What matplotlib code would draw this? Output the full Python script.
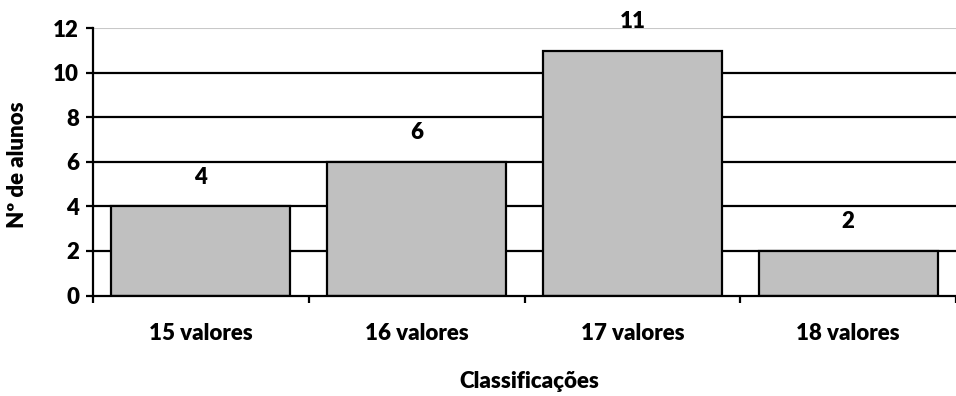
import matplotlib
matplotlib.use("Agg")
import matplotlib.pyplot as plt
import numpy as np

categories = ["15 valores", "16 valores", "17 valores", "18 valores"]
counts = [4, 6, 11, 2]
yticks = [0, 2, 4, 6, 8, 10, 12]

plt.rcParams['font.family'] = ['Lato', 'DejaVu Sans']
FONT = dict(fontsize=16, fontweight='heavy')

W, H = 956, 396
fig = plt.figure(figsize=(W / 100, H / 100), dpi=100)
left_px, right_px = 93, 956
bottom_px, top_px = 295.5, 28.3
ax = fig.add_axes([left_px / W, 1 - bottom_px / H,
                   (right_px - left_px) / W, (bottom_px - top_px) / H])

unit = 218.0
x = np.arange(len(categories))
ax.set_xlim(-0.5, -0.5 + (right_px - left_px) / unit)
ax.set_ylim(0, 12)

# horizontal gridlines
for v in yticks[1:-1]:
    ax.axhline(v, color='black', lw=1.6, zorder=1)
ax.axhline(12, color='#c8c8c8', lw=1.5, zorder=1)

bars = ax.bar(x, counts, width=0.83, color='#c0c0c0', edgecolor='black',
              linewidth=1.6, zorder=2)

for xi, c in zip(x, counts):
    ax.annotate(str(c), (xi, c), xytext=(0, 21), textcoords='offset points',
                ha='center', va='center', **FONT)

ax.spines['top'].set_visible(False)
ax.spines['right'].set_visible(False)
ax.spines['left'].set_linewidth(1.6)
ax.spines['bottom'].set_linewidth(1.6)

ax.set_yticks(yticks)
ax.set_yticklabels([str(v) for v in yticks], **FONT)
ax.tick_params(axis='y', length=5, width=1.6, pad=5)

# category boundaries carry the tick marks, labels sit at the centres
ax.set_xticks(np.arange(-0.5, len(categories) + 0.5, 1.0))
ax.set_xticklabels([])
ax.tick_params(axis='x', which='major', length=5, width=1.6)
ax.set_xticks(x, minor=True)
ax.set_xticklabels(categories, minor=True, **FONT)
ax.tick_params(axis='x', which='minor', length=0, pad=20)

fig.text(18 / W, 1 - 165 / H, "Nº de alunos", rotation=90,
         ha='center', va='center', **FONT)
fig.text(529 / W, 1 - 382 / H, "Classificações",
         ha='center', va='center', **FONT)

fig.savefig("out.png", dpi=100)
